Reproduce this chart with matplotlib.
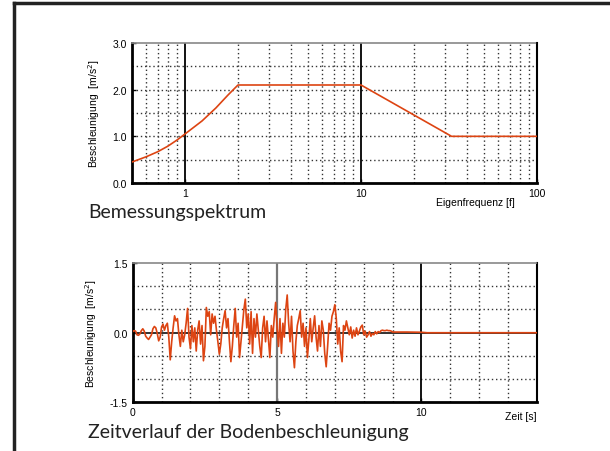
import matplotlib
matplotlib.use("Agg")
import matplotlib.pyplot as plt
from matplotlib.lines import Line2D
import numpy as np

# ---------------- data ----------------
freq = [0.5, 0.6, 0.7, 0.8, 0.9, 1.0, 1.25, 1.5, 1.75, 2.0, 10.0, 32.7, 100.0]
spec = [0.45, 0.56, 0.67, 0.79, 0.92, 1.05, 1.33, 1.61, 1.88, 2.1, 2.1, 1.0, 1.0]

acc = [
    0.02, 0.04, 0.03, -0.05, -0.06, -0.03, 0.04, 0.08, 0.03, -0.08,
    -0.12, -0.15, -0.10, -0.05, 0.08, 0.13, 0.10, -0.02, -0.18, -0.10,
    0.12, 0.18, 0.05, 0.15, 0.20, -0.10, -0.59, -0.20, 0.10, 0.36,
    0.25, 0.30, -0.05, -0.30, 0.05, -0.20, -0.05, 0.20, 0.52, -0.10,
    -0.35, 0.15, -0.20, 0.10, -0.40, 0.05, 0.25, -0.25, 0.15, -0.61,
    -0.30, 0.54, 0.35, 0.45, -0.05, 0.40, 0.20, 0.35, 0.05, -0.20,
    -0.47, -0.25, 0.10, 0.30, 0.47, 0.10, 0.30, -0.20, -0.63, -0.30,
    0.15, 0.52, -0.10, 0.20, -0.54, -0.20, 0.15, 0.50, 0.72, 0.10,
    0.40, -0.25, 0.45, -0.45, 0.30, -0.10, 0.40, 0.05, -0.30, -0.54,
    0.10, 0.35, -0.20, 0.25, -0.15, -0.54, 0.15, -0.10, 0.30, 0.65,
    0.10, -0.30, 0.30, -0.45, 0.20, -0.10, 0.50, 0.81, 0.20, -0.20,
    0.35, -0.40, -0.76, -0.20, 0.15, 0.30, 0.47, -0.10, 0.20, -0.30,
    0.10, -0.54, -0.15, 0.30, -0.20, 0.10, 0.36, -0.10, -0.40, 0.15,
    -0.30, 0.25, 0.05, -0.45, -0.74, -0.30, 0.20, 0.05, 0.35, 0.45,
    0.60, 0.30, -0.25, 0.10, -0.40, -0.63, 0.15, 0.05, 0.25, 0.10,
    -0.05, 0.12, -0.12, 0.05, -0.08, 0.10, -0.05, 0.03, 0.12, 0.16,
    -0.05, 0.03, -0.10, -0.05, 0.02, -0.08, -0.02, -0.05, 0.02, -0.03,
    0.02, 0.00, 0.04, 0.05, 0.04, 0.04, 0.05, 0.04, 0.04, 0.03,
    0.01,
]
t_main = [round(0.05 * i, 2) for i in range(len(acc))]
t_tail = [9.5, 10.0, 10.2, 14.0]
acc_tail = [0.01, 0.005, -0.005, -0.005]
time = t_main + t_tail
accel = acc + acc_tail

# ---------------- style ----------------
LINE = "#dd4412"
TICKFONT = "Liberation Sans"
TITLEFONT = "Lato"

fig = plt.figure(figsize=(6.10, 4.52), dpi=100)
fig.patch.set_facecolor("white")

# frame lines (left and top)
fx = 13.5 / 610
fy = 1 - 3.5 / 452
fig.add_artist(Line2D([fx, fx], [0, fy], transform=fig.transFigure, color="#222222", lw=2.5))
fig.add_artist(Line2D([fx, 1], [fy, fy], transform=fig.transFigure, color="#222222", lw=2.5))


def style_axes(ax):
    ax.spines["left"].set_linewidth(2.0)
    ax.spines["bottom"].set_linewidth(2.0)
    ax.spines["right"].set_linewidth(1.5)
    ax.spines["top"].set_linewidth(1.2)
    ax.spines["top"].set_color("#888888")
    ax.spines["top"].set_linestyle((0, (2, 1)))
    ax.tick_params(which="both", direction="in", length=3, width=1, labelsize=7.5,
                   top=False, right=False)
    for lab in ax.get_xticklabels() + ax.get_yticklabels():
        lab.set_fontfamily(TICKFONT)


GRID = dict(color="#333333", lw=1.0, ls=(0, (1, 2)), zorder=1)

# ---------------- top: spectrum ----------------
ax1 = fig.add_axes([132 / 610, 1 - 184 / 452, 405 / 610, 140 / 452])
ax1.set_xscale("log")
ax1.set_xlim(0.5, 100)
ax1.set_ylim(0, 3)
gridx = [0.6, 0.7, 0.8, 0.9] + list(range(2, 10)) + list(range(20, 100, 10))
for gx in gridx:
    ax1.axvline(gx, **GRID)
for gy in [0.5, 1.0, 1.5, 2.0, 2.5]:
    ax1.axhline(gy, **GRID)
for gx in [1, 10]:
    ax1.axvline(gx, color="black", lw=1.3, zorder=2)
ax1.plot(freq, spec, color=LINE, lw=1.2, zorder=3)
ax1.set_xticks([1, 10, 100])
ax1.set_xticklabels(["1", "10", "100"])
ax1.xaxis.set_minor_locator(matplotlib.ticker.NullLocator())
ax1.set_yticks([0, 1, 2, 3])
ax1.set_yticklabels(["0.0", "1.0", "2.0", "3.0"])
ax1.set_ylabel("Beschleunigung  [m/s$^2$]", fontsize=7.5, family=TICKFONT, labelpad=8)
style_axes(ax1)

fig.text(515 / 610, 1 - 203 / 452, "Eigenfrequenz [f]", ha="right", va="center",
         fontsize=7.5, family=TICKFONT)
fig.text(88 / 610, 1 - 213 / 452, "Bemessungspektrum", ha="left", va="center",
         fontsize=14, family=TITLEFONT, color="#222222")

# ---------------- bottom: time history ----------------
ax2 = fig.add_axes([132.7 / 610, 1 - 403 / 452, 404.3 / 610, 139 / 452])
ax2.set_xlim(0, 14)
ax2.set_ylim(-1.5, 1.5)
for gx in [1, 2, 3, 4, 6, 7, 8, 9, 11, 12, 13]:
    ax2.axvline(gx, **GRID)
for gy in [-1.0, -0.5, 0.5, 1.0]:
    ax2.axhline(gy, **GRID)
ax2.axvline(5, color="#777777", lw=1.6, zorder=2)
ax2.axvline(10, color="black", lw=1.3, zorder=2)
ax2.axhline(0, color="#222222", lw=1.3, zorder=2)
ax2.plot(time, accel, color=LINE, lw=1.2, zorder=3)
ax2.set_xticks([0, 5, 10])
ax2.set_xticklabels(["0", "5", "10"])
ax2.set_yticks([-1.5, 0, 1.5])
ax2.set_yticklabels(["-1.5", "0.0", "1.5"])
ax2.set_ylabel("Beschleunigung  [m/s$^2$]", fontsize=7.5, family=TICKFONT, labelpad=8)
style_axes(ax2)

fig.text(537 / 610, 1 - 417 / 452, "Zeit [s]", ha="right", va="center",
         fontsize=7.5, family=TICKFONT)
fig.text(88 / 610, 1 - 433 / 452, "Zeitverlauf der Bodenbeschleunigung", ha="left",
         va="center", fontsize=14, family=TITLEFONT, color="#222222")

fig.savefig("out.png", dpi=100, facecolor="white")
